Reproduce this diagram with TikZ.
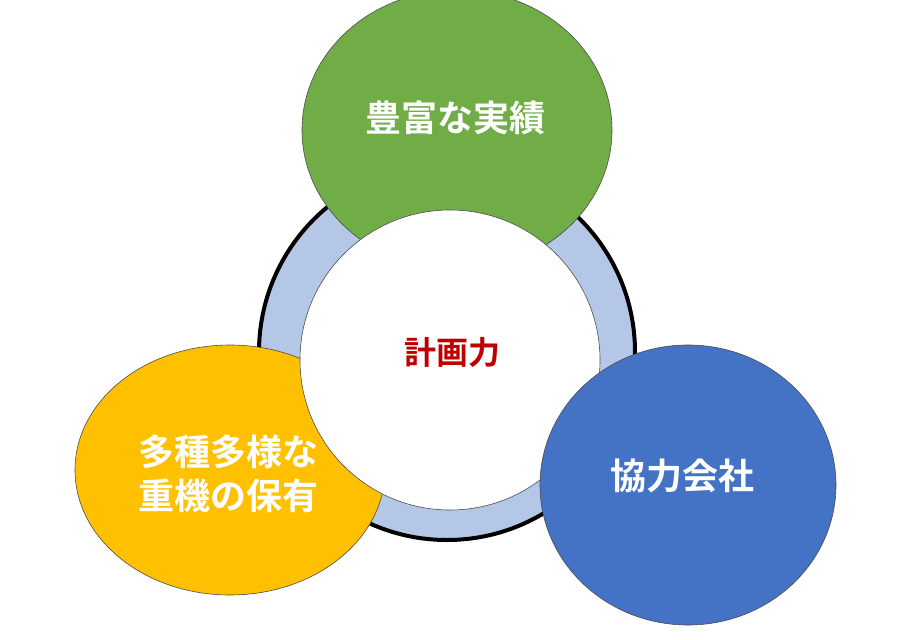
\documentclass[tikz,border=0pt]{standalone}
\usepackage{fontspec}
\newfontfamily\cjk{Noto Sans CJK JP Bold}
\begin{document}
\begin{tikzpicture}[x=1pt,y=-1pt,
  lbl/.style={font=\cjk\fontsize{36}{44}\selectfont,text=white,align=center},
  blob/.style={draw=black!70,line width=0.6pt}]
\useasboundingbox (0,0) rectangle (900,640);
\fill[white] (0,0) rectangle (900,640);
\node[draw=black,line width=4pt,fill={rgb,255:red,180;green,199;blue,231},circle,minimum size=376pt,inner sep=0pt] (ring) at (447,352) {};
\draw[blob,fill={rgb,255:red,112;green,173;blue,71}] (457,130) ellipse [x radius=155,y radius=140];
\node[lbl] (g) at (455,118) {豊富な実績};
\draw[blob,fill={rgb,255:red,255;green,192;blue,0}] (230,470) ellipse [x radius=155,y radius=125];
\node[lbl] (y) at (228,474) {多種多様な\\重機の保有};
\node[draw=black!70,line width=0.6pt,fill=white,circle,minimum size=300pt,inner sep=0pt] (in) at (450,360) {};
\node[font=\cjk\fontsize{32}{38}\selectfont,text={rgb,255:red,192;green,0;blue,0}] (c) at (452,352) {計画力};
\draw[blob,fill={rgb,255:red,68;green,114;blue,196}] (688,485) ellipse [x radius=148,y radius=140];
\node[lbl] (b) at (682,476) {協力会社};
\end{tikzpicture}
\end{document}
